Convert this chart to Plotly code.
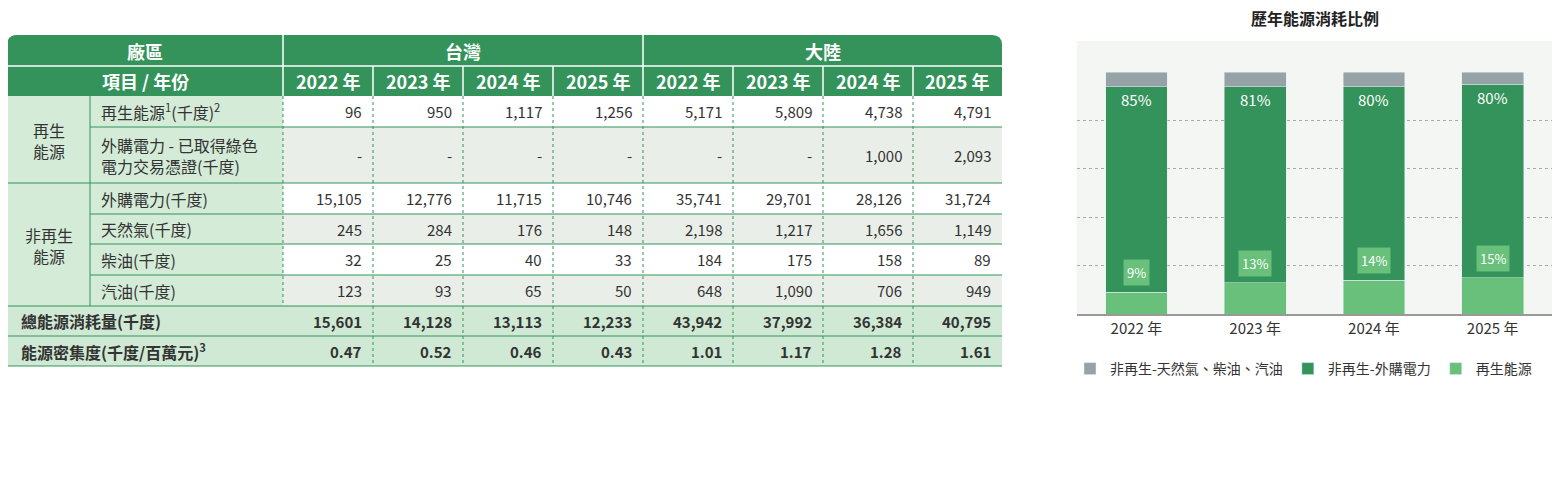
import plotly.graph_objects as go

FONT = "Noto Sans CJK TC"
GREEN = "#33935a"
LIGHT = "#69c07a"
GRAY = "#95a3a6"
OFF = 8  # page body margin in the browser

# ---- table data
regions = ["台灣", "大陸"]
years = ["2022 年", "2023 年", "2024 年", "2025 年"]
groups = ["再生<br>能源", "非再生<br>能源"]
items = ["再生能源<sup>1</sup>(千度)<sup>2</sup>", "外購電力 - 已取得綠色<br>電力交易憑證(千度)",
         "外購電力(千度)", "天然氣(千度)", "柴油(千度)", "汽油(千度)"]
renew = [96, 950, 1117, 1256, 5171, 5809, 4738, 4791]
cert = [None] * 6 + [1000, 2093]
purchased = [15105, 12776, 11715, 10746, 35741, 29701, 28126, 31724]
gas = [245, 284, 176, 148, 2198, 1217, 1656, 1149]
diesel = [32, 25, 40, 33, 184, 175, 158, 89]
petrol = [123, 93, 65, 50, 648, 1090, 706, 949]
total_label = "總能源消耗量(千度)"
total = [15601, 14128, 13113, 12233, 43942, 37992, 36384, 40795]
density_label = "能源密集度(千度/百萬元)<sup>3</sup>"
density = [0.47, 0.52, 0.46, 0.43, 1.01, 1.17, 1.28, 1.61]

# ---- chart data
chart_years = ["2022 年", "2023 年", "2024 年", "2025 年"]
share_renew = [9, 13, 14, 15]
share_purchased = [85, 81, 80, 80]
share_other = [6, 6, 6, 5]

footnotes = [
    "1：包含太陽能自發自用及綠電轉供之再生能源電力消耗",
    "2：1 千度 =3.6GJ",
    "3：2022 年~ 2023 年營業額涵蓋範圍 : 台灣廠區含中強光電、揚光綠能、宇康醫電、誠屏科技、中光電智能雲服、中光電智能機器人、譜鉅科技、中光電智能感測、中光電創境、中光電智能物流 ; 大陸廠區含蘇州璨鴻光電、蘇州璨宇光電、",
    "    蘇州璨曜光電、昆山揚皓光電、昆山揚煒光電",
    "    2024 年~ 2025 年營業額涵蓋範圍 : 台灣廠區含中強光電、揚光綠能、宇康醫電、中光電智能雲服、中光電智能機器人、譜鉅科技、中光電智能感測、中光電創境、中光電智能物流 ; 大陸廠區含蘇州璨宇光電、蘇州璨曜光電、昆山揚皓光電、",
    "    昆山揚煒光電",
]

fig = go.Figure()
shapes = []
ann = []


def px(x):
    return (x - OFF) / 1560


def py(y):
    return 1 - (y - OFF) / 484


def txt(x, y, s, size=14, color="#333", bold=False, anchor="center", **kw):
    if bold:
        s = "<b>" + s + "</b>"
    ann.append(dict(x=x, y=y, xref="x2", yref="y2", text=s, showarrow=False,
                    xanchor=anchor, yanchor="middle",
                    font=dict(family=FONT, size=size, color=color), **kw))


def rect(x0, y0, x1, y1, fill):
    shapes.append(dict(type="rect", xref="x2", yref="y2", x0=x0, y0=y0, x1=x1, y1=y1,
                       fillcolor=fill, line=dict(width=0), layer="below"))


def line(x0, y0, x1, y1, color, dash=None, width=1):
    shapes.append(dict(type="line", xref="x2", yref="y2", x0=x0, y0=y0, x1=x1, y1=y1,
                       line=dict(color=color, width=width, dash=dash), layer="below"))


# table geometry (pixels)
L, GX, IX, R = 7, 90, 283, 1002
colx = [283 + i * 90 for i in range(9)]
colx[-1] = R
rows_y = [96, 127, 183, 214, 244, 275, 306, 336, 366]

txt(6, 18, "能源使用一覽表", size=16, color="#222", bold=True, anchor="left")

# header
shapes.append(dict(type="path", xref="x2", yref="y2",
                   path=f"M {L},96 L {L},45 Q {L},35 {L+10},35 L {R-10},35 Q {R},35 {R},45 L {R},96 Z",
                   fillcolor=GREEN, line=dict(width=0), layer="below"))
line(L, 66, R, 66, "white", width=1.5)
line(IX, 35, IX, 96, "white", width=1.5)
line(colx[4], 35, colx[4], 96, "white", width=1.5)
for i in range(1, 8):
    if i != 4:
        line(colx[i], 66, colx[i], 96, "white", width=1.5)
txt((L + IX) / 2, 51, "廠區", size=18, color="white", bold=True)
txt((L + IX) / 2, 81, "項目 / 年份", size=18, color="white", bold=True)
for r, reg in enumerate(regions):
    txt((colx[4 * r] + colx[4 * r + 4]) / 2, 51, reg, size=18, color="white", bold=True)
    for k, yr in enumerate(years):
        txt((colx[4 * r + k] + colx[4 * r + k + 1]) / 2, 81, yr, size=18, color="white", bold=True)

# body
body = [renew, cert, purchased, gas, diesel, petrol]
for i, (name, vals) in enumerate(zip(items, body)):
    y0, y1 = rows_y[i], rows_y[i + 1]
    rect(IX, y0, R, y1, "#ffffff" if i % 2 == 0 else "#e9efe8")
    rect(GX, y0, IX, y1, "#d3ebd7")
    txt(GX + 9, (y0 + y1) / 2, name, size=16, anchor="left", align="left")
    for k, v in enumerate(vals):
        s = "-" if v is None else f"{v:,}"
        txt(colx[k + 1] - 9, (y0 + y1) / 2, s, size=15, anchor="right")
rect(L, 96, GX, 183, "#d3ebd7")
rect(L, 183, GX, 306, "#d3ebd7")
txt((L + GX) / 2, 140, groups[0], size=16)
txt((L + GX) / 2, 245, groups[1], size=16)

for i, (name, vals, fmt) in enumerate([(total_label, total, "{:,}"), (density_label, density, "{:.2f}")]):
    y0, y1 = rows_y[6 + i], rows_y[7 + i]
    rect(L, y0, R, y1, "#cfe9d4")
    txt(L + 12, (y0 + y1) / 2, name, size=16, bold=True, anchor="left")
    for k, v in enumerate(vals):
        txt(colx[k + 1] - 9, (y0 + y1) / 2, fmt.format(v), size=15, bold=True, anchor="right")

# grid lines
for y in [127, 214, 244, 275]:
    line(GX, y, R, y, GREEN)
for y in [183, 306, 336, 366]:
    line(L, y, R, y, GREEN)
line(GX, 96, GX, 306, GREEN)
for i in range(1, 8):
    line(colx[i], 96, colx[i], 366, GREEN, dash="dot")
line(colx[0], 96, colx[0], 306, GREEN, dash="dot")

for j, t in enumerate(footnotes):
    yy = [381, 397, 414, 430, 451, 468][j]
    txt(6, yy, t, size=12, color="#333", anchor="left")

# ---- chart
txt(1315, 18, "歷年能源消耗比例", size=16, color="#222", bold=True)
shapes.append(dict(type="rect", xref="paper", yref="paper",
                   x0=px(1077), x1=px(1552), y0=py(314), y1=py(41),
                   fillcolor="#f4f6f3", line=dict(width=0), layer="below"))

fig.add_bar(x=chart_years, y=share_renew, name="再生能源", marker_color=LIGHT, width=0.52)
fig.add_bar(x=chart_years, y=share_purchased, name="非再生-外購電力", marker_color=GREEN, width=0.52)
fig.add_bar(x=chart_years, y=share_other, name="非再生-天然氣、柴油、汽油", marker_color=GRAY, width=0.52)

for yr, r_, p, o in zip(chart_years, share_renew, share_purchased, share_other):
    ann.append(dict(x=yr, y=107, text=f"{o}%", showarrow=False, bgcolor=GRAY,
                    font=dict(family=FONT, size=13, color="white"), borderpad=3))
    ann.append(dict(x=yr, y=r_ + p - 5.5, text=f"{p}%", showarrow=False,
                    font=dict(family=FONT, size=15, color="white")))
    ann.append(dict(x=yr, y=r_ + 8, text=f"{r_}%", showarrow=False, bgcolor=LIGHT,
                    font=dict(family=FONT, size=13, color="white"), borderpad=3))

for a in ann:
    a.setdefault("xref", "x")
    a.setdefault("yref", "y")

fig.update_layout(
    width=1560, height=484, margin=dict(l=0, r=0, t=0, b=0),
    paper_bgcolor="white", plot_bgcolor="rgba(0,0,0,0)",
    barmode="stack", font=dict(family=FONT),
    shapes=shapes, annotations=ann,
    xaxis=dict(domain=[px(1077), px(1552)], anchor="y", showgrid=False,
               showline=True, linecolor="#999", linewidth=2,
               tickfont=dict(family=FONT, size=15, color="#333")),
    yaxis=dict(domain=[py(314), py(72)], range=[0, 100], showticklabels=False,
               showgrid=True, gridcolor="#aaa", griddash="dot", dtick=20, zeroline=False),
    xaxis2=dict(domain=[0, 1], range=[OFF, 1560 + OFF], visible=False, anchor="y2", fixedrange=True),
    yaxis2=dict(domain=[0, 1], range=[484 + OFF, OFF], visible=False, anchor="x2", fixedrange=True),
    legend=dict(orientation="h", x=px(1070), xanchor="left", y=py(353), yanchor="top",
                traceorder="reversed", font=dict(family=FONT, size=14, color="#333"),
                itemwidth=30, tracegroupgap=0, bgcolor="rgba(0,0,0,0)"),
)
# invisible trace so the x2/y2 pixel axes exist
fig.add_scatter(x=[0], y=[0], xaxis="x2", yaxis="y2", mode="markers",
                marker=dict(opacity=0), showlegend=False, hoverinfo="skip")
fig.write_html("out.html")
